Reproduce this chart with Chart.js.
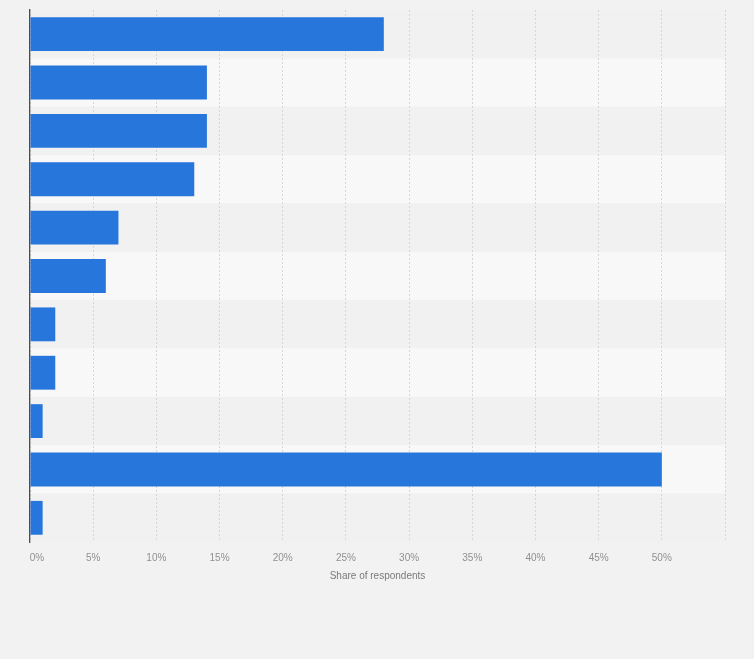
<!DOCTYPE html>
<html>
<head>
<meta charset="utf-8">
<script src="https://cdn.jsdelivr.net/npm/chart.js@4/dist/chart.umd.min.js"></script>
<style>
  html, body { margin: 0; padding: 0; background: #f2f2f2; }
  #wrap { width: 754px; height: 659px; position: relative; }
</style>
</head>
<body>
<div id="wrap"><canvas id="chart"></canvas></div>
<script>
// categories are not labelled in the picture
const categories = ['Option 1', 'Option 2', 'Option 3', 'Option 4', 'Option 5', 'Option 6',
                    'Option 7', 'Option 8', 'Option 9', 'Option 10', 'Option 11'];
const shares = [28, 14, 14, 13, 7, 6, 2, 2, 1, 50, 1];
const xTicks = [0, 5, 10, 15, 20, 25, 30, 35, 40, 45, 50, 55];
const xTickLabels = ['0%', '5%', '10%', '15%', '20%', '25%', '30%', '35%', '40%', '45%', '50%', ''];

// alternating row stripes behind the bars
const rowBands = {
    id: 'rowBands',
    beforeDraw(chart) {
        const { ctx, chartArea, scales } = chart;
        const y = scales.y;
        const step = (chartArea.bottom - chartArea.top) / categories.length;
        ctx.save();
        categories.forEach((c, i) => {
            const mid = y.getPixelForValue(i);
            ctx.fillStyle = i % 2 === 0 ? '#f1f1f1' : '#f8f8f8';
            ctx.fillRect(chartArea.left, mid - step / 2, chartArea.right - chartArea.left, step);
        });
        ctx.restore();
    }
};

const ctx = document.getElementById('chart').getContext('2d');
new Chart(ctx, {
    type: 'bar',
    data: {
        labels: categories,
        datasets: [{
            data: shares,
            backgroundColor: '#2776db',
            borderWidth: 0,
            categoryPercentage: 1,
            barPercentage: 0.7
        }]
    },
    options: {
        indexAxis: 'y',
        responsive: true,
        maintainAspectRatio: false,
        animation: false,
        layout: { padding: { left: 0, right: 29, top: 10, bottom: 77 } },
        plugins: { legend: { display: false }, tooltip: { enabled: false } },
        scales: {
            x: {
                min: 0,
                max: 55,
                afterBuildTicks(scale) {
                    scale.ticks = xTicks.map(v => ({ value: v }));
                },
                ticks: {
                    autoSkip: false,
                    maxRotation: 0,
                    padding: 10,
                    color: '#909090',
                    font: { family: 'Liberation Sans, Arial, sans-serif', size: 10 },
                    callback: (v) => {
                        const i = xTicks.indexOf(v);
                        // first label sits just right of the axis
                        return i === 0 ? '     ' + xTickLabels[i] : xTickLabels[i];
                    }
                },
                grid: { color: '#d6d6d6', drawTicks: false, lineWidth: 1 },
                border: { display: false, dash: [2, 2] },
                title: {
                    display: true,
                    text: 'Share of respondents',
                    color: '#7a7a7a',
                    font: { family: 'Liberation Sans, Arial, sans-serif', size: 10 },
                    padding: { top: -4, bottom: 0 }
                }
            },
            y: {
                ticks: { display: false },
                grid: { display: false, drawTicks: false },
                border: { display: true, color: '#4d4d4d', width: 1.3 },
                afterFit(scale) { scale.width = 30; }
            }
        }
    },
    plugins: [rowBands]
});
</script>
</body>
</html>
